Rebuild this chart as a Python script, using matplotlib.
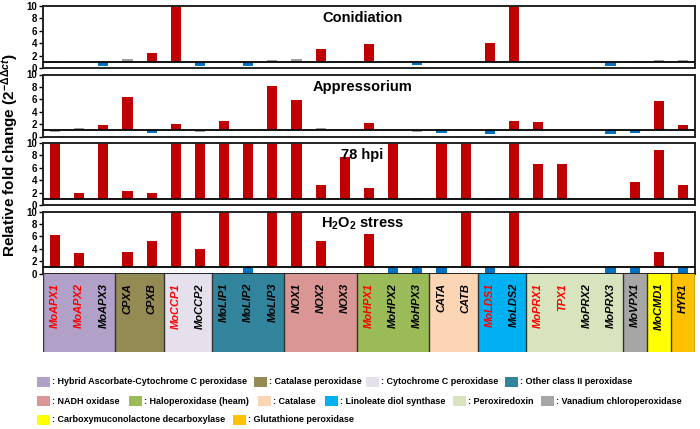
"""Relative expression of Magnaporthe peroxidase genes across four conditions."""

import matplotlib.pyplot as plt
from matplotlib.patches import Rectangle

plt.rcParams['font.family'] = ['Liberation Sans', 'DejaVu Sans']
plt.rcParams['mathtext.fontset'] = 'custom'
plt.rcParams['mathtext.rm'] = 'Liberation Sans:bold'
plt.rcParams['mathtext.bf'] = 'Liberation Sans:bold'
plt.rcParams['mathtext.it'] = 'Liberation Sans:bold:italic'

genes = ['MoAPX1', 'MoAPX2', 'MoAPX3', 'CPXA', 'CPXB', 'MoCCP1', 'MoCCP2',
         'MoLIP1', 'MoLIP2', 'MoLIP3', 'NOX1', 'NOX2', 'NOX3', 'MoHPX1',
         'MoHPX2', 'MoHPX3', 'CATA', 'CATB', 'MoLDS1', 'MoLDS2', 'MoPRX1',
         'TPX1', 'MoPRX2', 'MoPRX3', 'MoVPX1', 'MoCMD1', 'HYR1']
red_genes = ['MoAPX1', 'MoAPX2', 'MoCCP1', 'MoHPX1', 'MoLDS1', 'MoPRX1', 'TPX1']

conidiation = [0.75, 1.0, 0.4, 1.4, 2.5, 10, 0.25, 1.0, 0.25, 1.3, 1.5, 3.1, 1.0, 3.9,
               0.75, 0.5, 1.0, 1.0, 4.1, 10, 1.0, 1.0, 1.0, 0.25, 0.75, 1.3, 1.3]
appressorium = [0.7, 1.3, 1.9, 6.4, 0.6, 2.0, 0.8, 2.5, 1.0, 8.1, 5.9, 1.4, 1.0, 2.2,
                1.0, 0.8, 0.6, 1.0, 0.4, 2.5, 2.35, 1.0, 1.0, 0.45, 0.5, 5.8, 1.8]
hpi78 = [10, 2.0, 10, 2.25, 1.95, 10, 10, 10, 10, 10, 10, 3.2, 7.7, 2.7,
         10, 1.15, 10, 10, 0.85, 10, 6.6, 6.6, 1.0, 1.0, 3.65, 8.8, 3.2]
h2o2 = [6.2, 3.3, 1.2, 3.4, 5.3, 10, 4.0, 10, 0.1, 10, 10, 5.3, 1.0, 6.4,
        0.1, 0.1, 0.1, 10, 0.1, 10, 0.85, 1.0, 1.1, 0.1, 0.1, 3.5, 0.1]

panel_titles = ['Conidiation', 'Appressorium', '78 hpi', r'H$_2$O$_2$ stress']

families = ['Hybrid Ascorbate-Cytochrome C peroxidase', 'Catalase peroxidase',
            'Cytochrome C peroxidase', 'Other class II peroxidase', 'NADH oxidase',
            'Haloperoxidase (heam)', 'Catalase', 'Linoleate diol synthase',
            'Peroxiredoxin', 'Vanadium chloroperoxidase',
            'Carboxymuconolactone decarboxylase', 'Glutathione peroxidase']
family_sizes = [3, 2, 2, 3, 3, 3, 2, 2, 4, 1, 1, 1]
family_colors = ['#B1A0C7', '#948A54', '#E6E0EC', '#31849B', '#DA9694', '#9BBB59',
                 '#FCD5B5', '#00B0F0', '#D7E4BD', '#A6A6A6', '#FFFF00', '#FFC000']

W, H = 700, 429


def bar_color(v):
    if v >= 1.6:
        return '#C00000'
    if v < 0.65:
        return '#0070C0'
    return '#A0A0A0'


def plot_panel(ax, values, title):
    x = range(len(values))
    heights = [v - 1 for v in values]
    ax.bar(x, heights, bottom=1, width=0.42, color=[bar_color(v) for v in values],
           edgecolor='none', zorder=2)
    ax.axhline(1, color='black', lw=1.3, zorder=3)
    ax.set_xlim(-0.5, len(values) - 0.5)
    ax.set_ylim(0, 10)
    ax.set_yticks([0, 2, 4, 6, 8, 10])
    ax.set_xticks([])
    ax.tick_params(axis='y', labelsize=7, length=3, width=1, pad=1)
    for lab in ax.get_yticklabels():
        lab.set_fontweight('bold')
    for s in ax.spines.values():
        s.set_linewidth(1.4)
        s.set_color('#222222')
    ax.text(0.49, 0.8, title, transform=ax.transAxes, ha='center', va='center',
            fontsize=10.5, fontweight='bold')


def plot_labels(ax):
    ax.set_xlim(-0.5, len(genes) - 0.5)
    ax.set_ylim(0, 1)
    ax.axis('off')
    start = -0.5
    for size, col in zip(family_sizes, family_colors):
        ax.add_patch(Rectangle((start, 0), size, 1, facecolor=col, edgecolor='none'))
        ax.plot([start, start], [0, 1], color='#333333', lw=1)
        start += size
    ax.plot([start, start], [0, 1], color='#333333', lw=1)
    for i, g in enumerate(genes):
        ax.text(i, 0.88, g, rotation=90, ha='center', va='top', fontsize=8,
                fontweight='bold', fontstyle='italic',
                color='red' if g in red_genes else 'black')


def draw_legend(fig):
    rows = [[(37, 0), (254, 1), (366, 2), (505, 3)],
            [(37, 4), (129, 5), (258, 6), (325, 7), (453, 8), (541, 9)],
            [(37, 10), (233, 11)]]
    row_y = [382, 401, 420]
    for row, yc in zip(rows, row_y):
        for xs, k in row:
            fig.patches.append(Rectangle((xs / W, 1 - (yc + 5) / H), 13 / W, 10 / H,
                                         facecolor=family_colors[k], edgecolor='none',
                                         transform=fig.transFigure))
            fig.text((xs + 15) / W, 1 - yc / H, ': ' + families[k], ha='left',
                     va='center', fontsize=6.5, fontweight='bold')


def main():
    fig = plt.figure(figsize=(7, 4.29), dpi=100)
    left, width = 43 / W, 652 / W
    tops = [6, 74.5, 143, 211.5]
    data = [conidiation, appressorium, hpi78, h2o2]
    for top, values, title in zip(tops, data, panel_titles):
        ax = fig.add_axes([left, 1 - (top + 62) / H, width, 62 / H])
        plot_panel(ax, values, title)

    lab_ax = fig.add_axes([left, 1 - 352 / H, width, (352 - 273.5) / H])
    plot_labels(lab_ax)

    fig.text(10 / W, 1 - 155 / H, r'Relative fold change (2$^{-\Delta\Delta ct}$)',
             rotation=90, ha='center', va='center', fontsize=11, fontweight='bold')

    draw_legend(fig)
    fig.savefig('out.png', dpi=100)


if __name__ == '__main__':
    main()
